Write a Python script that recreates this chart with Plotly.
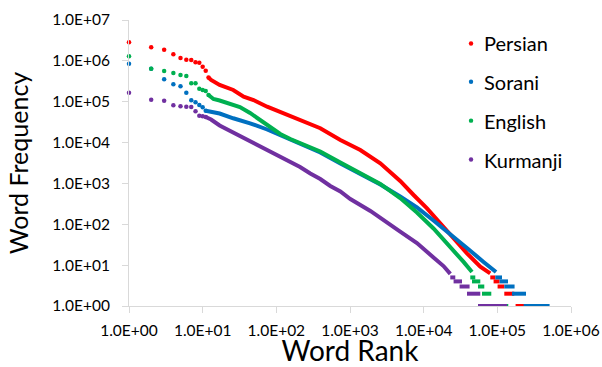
import plotly.graph_objects as go

languages = ["Persian", "Sorani", "English", "Kurmanji"]
colors = ["#FF0000", "#0070C0", "#00B050", "#7030A0"]

# ---- first, individually visible ranks (dots) ----
head_rank = [1, 2, 3, 4, 5, 6, 7, 8, 9, 10, 11, 12]
persian_head_freq = [2850000, 2150000, 1880000, 1450000, 1180000, 1070000,
                     1050000, 925000, 900000, 720000, 575000, 390000]
sorani_head_freq = [852000, 640000, 354000, 267000, 238000, 166000,
                    108000, 96800, 83100, 73000, 60300]
english_head_freq = [1293000, 643000, 565000, 505000, 451000, 426000,
                     282000, 282000, 208000, 194000, 183000, 146000]
kurmanji_head_freq = [166000, 112000, 105900, 81700, 77300, 75500,
                      74300, 58300, 45500, 44000, 42300]

# ---- dense part of each curve ----
persian_curve_rank = [12, 13, 17, 26, 36, 49, 75, 125, 210, 395, 740, 1380,
                      2580, 4800, 7300, 11100, 16800, 25500, 38700, 58700, 80000]
persian_curve_freq = [390000, 340000, 257000, 194000, 133000, 110000, 75500,
                      52100, 34300, 22400, 11600, 6580, 3110, 1150, 521, 246,
                      106, 45.4, 19.5, 9.2, 6.3]

sorani_curve_rank = [11, 14, 17, 26, 44, 75, 113, 210, 395, 740, 1380, 2580,
                     4800, 8100, 13600, 23000, 38700, 65000, 96000]
sorani_curve_freq = [60300, 56000, 51500, 39300, 29600, 20900, 15300, 9230,
                     5720, 3080, 1700, 942, 479, 258, 124, 58, 26.3, 12, 6.8]

english_curve_rank = [12, 14, 17, 24, 32, 44, 61, 83, 113, 155, 210, 395, 740,
                      1380, 2580, 4800, 8100, 13600, 23000, 34800, 45300]
english_curve_freq = [146000, 116600, 107100, 90500, 74300, 53000, 34700,
                      23400, 16200, 12240, 9600, 6050, 3250, 1800, 969, 440,
                      195, 79, 28.6, 12, 6.8]

kurmanji_curve_rank = [11, 13, 17, 26, 44, 75, 113, 155, 210, 289, 395, 540,
                       740, 1010, 1380, 1890, 4800, 8100, 13600, 18600, 23000]
kurmanji_curve_freq = [42300, 36700, 26200, 17650, 10510, 6400, 4310, 3250,
                       2525, 1750, 1284, 866, 635, 416, 305, 212, 66, 34.8,
                       15.4, 9.5, 6.1]

# ---- flat runs of equal low frequency at the tail ----
step_freq = [5, 4, 3, 2, 1]
persian_step_start = [80250, 88950, 100800, 124300, 176900]
persian_step_end = [93800, 107300, 124300, 169800, 327500]
sorani_step_start = [93800, 107300, 124300, 158100, 227200]
sorani_step_end = [115700, 139500, 171400, 244900, 512100]
english_step_start = [42950, 45290, 54630, 61910, 77790]
english_step_end = [50200, 58700, 66520, 82780, 140800]
kurmanji_step_start = [22980, 25480, 30730, 38740, 54630]
kurmanji_step_end = [26870, 33130, 42010, 58700, 135200]

x_tick_vals = [1, 10, 100, 1000, 10000, 100000, 1000000]
x_tick_text = ["1.0E+00", "1.0E+01", "1.0E+02", "1.0E+03", "1.0E+04",
               "1.0E+05", "1.0E+06"]
y_tick_vals = [1, 10, 100, 1000, 10000, 100000, 1000000, 10000000]
y_tick_text = ["1.0E+00", "1.0E+01", "1.0E+02", "1.0E+03", "1.0E+04",
               "1.0E+05", "1.0E+06", "1.0E+07"]

series = [
    (persian_head_freq, persian_curve_rank, persian_curve_freq,
     persian_step_start, persian_step_end),
    (sorani_head_freq, sorani_curve_rank, sorani_curve_freq,
     sorani_step_start, sorani_step_end),
    (english_head_freq, english_curve_rank, english_curve_freq,
     english_step_start, english_step_end),
    (kurmanji_head_freq, kurmanji_curve_rank, kurmanji_curve_freq,
     kurmanji_step_start, kurmanji_step_end),
]

FONT = "Lato, 'Liberation Sans', Arial, sans-serif"
fig = go.Figure()

for name, color, (hf, cr, cf, ss, se) in zip(languages, colors, series):
    fig.add_trace(go.Scatter(
        x=head_rank[:len(hf)], y=hf, mode="markers", name=name,
        marker=dict(color=color, size=4.5), cliponaxis=False,
        showlegend=False, legendgroup=name))
    fig.add_trace(go.Scatter(
        x=cr, y=cf, mode="lines", name=name,
        line=dict(color=color, width=4), cliponaxis=False,
        showlegend=False, legendgroup=name))
    sx, sy = [], []
    for f, a, b in zip(step_freq, ss, se):
        sx += [a, b, None]
        sy += [f, f, None]
    fig.add_trace(go.Scatter(
        x=sx, y=sy, mode="lines", name=name,
        line=dict(color=color, width=4), cliponaxis=False,
        showlegend=False, legendgroup=name))

# manual legend (dot + label)
legend_y = [0.918, 0.784, 0.648, 0.512]
shapes, annotations = [], []
for name, color, ly in zip(languages, colors, legend_y):
    shapes.append(dict(type="circle", xref="paper", yref="paper",
                       xsizemode="pixel", ysizemode="pixel",
                       xanchor=0.7738, yanchor=ly,
                       x0=-2.2, x1=2.2, y0=-2.2, y1=2.2,
                       fillcolor=color, line=dict(width=0)))
    annotations.append(dict(text=name, xref="paper", yref="paper",
                            x=0.798, y=ly, xanchor="left", yanchor="middle",
                            showarrow=False,
                            font=dict(family=FONT, size=20, color="#000000")))

axis_common = dict(
    type="log", showgrid=False, zeroline=False, showline=True,
    linecolor="#D9D9D9", linewidth=1, ticks="outside", ticklen=6,
    tickcolor="#D9D9D9", tickwidth=1,
    tickfont=dict(family=FONT, size=15.5, color="#000000"),
)

fig.update_layout(
    width=602, height=367,
    margin=dict(l=129, r=31, t=20, b=61, autoexpand=False),
    paper_bgcolor="white", plot_bgcolor="white",
    showlegend=False,
    xaxis=dict(axis_common, range=[0, 6], tickvals=x_tick_vals,
               ticktext=x_tick_text, ticklabelstandoff=4,
               title=dict(text="Word Rank", standoff=16,
                          font=dict(family=FONT, size=28, color="#000000"))),
    yaxis=dict(axis_common, range=[0, 7], tickvals=y_tick_vals,
               ticktext=y_tick_text, ticklabelstandoff=9,
               title=dict(text="Word Frequency", standoff=16,
                          font=dict(family=FONT, size=25, color="#000000"))),
    shapes=shapes, annotations=annotations,
)

# remove the page's default body margin so the figure sits at the top-left
fig.write_html(
    "out.html",
    config={"displayModeBar": False},
    post_script="document.body.style.margin='0';"
                "document.body.style.overflow='hidden';",
)
